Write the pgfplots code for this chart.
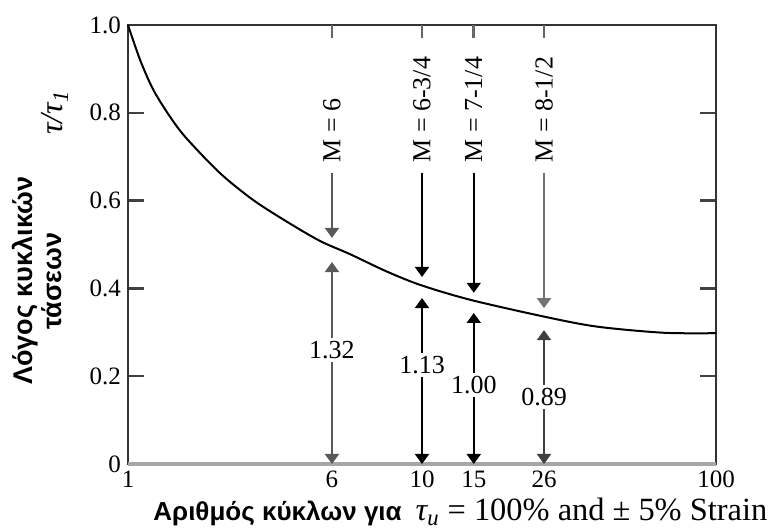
\documentclass[border=0pt]{standalone}
\usepackage{pgfplots}
\pgfplotsset{compat=1.18}
\usepackage{fontspec}
\setmainfont{Liberation Serif}
\newfontfamily\grk{Liberation Sans}
\usetikzlibrary{arrows.meta}

\tikzset{
  arr/.style={-{Triangle[width=7pt,length=5pt]}, line width=1pt},
  darr/.style={{Triangle[width=7pt,length=5pt]}-{Triangle[width=7pt,length=5pt]}, line width=1pt},
  mlab/.style={rotate=90, anchor=west, inner sep=0pt, font=\fontsize{13}{15}\selectfont},
  vlab/.style={fill=white, inner sep=1.5pt, font=\fontsize{13}{15}\selectfont},
  ttick/.style={black!60, line width=1.4pt},
}

\begin{document}
\begin{tikzpicture}
\begin{semilogxaxis}[
  scale only axis, width=294pt, height=219.5pt,
  xmin=1, xmax=100, ymin=0, ymax=1,
  xtick={1,4.94,10,15,26,100}, xticklabels={1,6,10,15,26,100},
  minor xtick={},
  ytick={0,0.2,0.4,0.6,0.8,1}, yticklabels={0,0.2,0.4,0.6,0.8,1.0},
  xtick style={draw=none},
  ytick style={black!75, line width=1.2pt},
  major tick length=8pt, tick align=inside,
  axis line style={black!80, line width=1pt},
  ticklabel style={font=\fontsize{12.5}{14}\selectfont},
  /pgf/number format/assume math mode=true,
  clip=false,
]
% measured curve
\addplot[black, line width=1pt, smooth] coordinates {
  (1,1.0)(1.1,0.92)(1.22,0.852)(1.39,0.791)(1.58,0.742)(2.06,0.662)
  (2.67,0.601)(3.47,0.552)(4.5,0.508)(5.69,0.478)(7.5,0.44)
  (9.85,0.408)(14.6,0.374)(25.9,0.336)(39.3,0.313)(66.2,0.299)(100,0.298)};

% grey bottom line
\draw[black!35, line width=2pt] (axis cs:1,0) -- (axis cs:100,0);

% top ticks
\draw[ttick] (axis cs:4.94,1) -- ([yshift=-6.5pt]axis cs:4.94,1);
\draw[ttick] (axis cs:10,1) -- ([yshift=-6.5pt]axis cs:10,1);
\draw[ttick] (axis cs:15,1) -- ([yshift=-6.5pt]axis cs:15,1);
\draw[ttick] (axis cs:26,1) -- ([yshift=-6.5pt]axis cs:26,1);

% upper arrows
\draw[arr, black!65] (axis cs:4.94,0.663) -- (axis cs:4.94,0.515);
\draw[arr] (axis cs:10,0.663) -- (axis cs:10,0.426);
\draw[arr] (axis cs:15,0.663) -- (axis cs:15,0.39);
\draw[arr, black!55] (axis cs:26,0.663) -- (axis cs:26,0.355);

% lower arrows
\draw[darr, black!65] (axis cs:4.94,0) -- (axis cs:4.94,0.46);
\draw[darr] (axis cs:10,0) -- (axis cs:10,0.378);
\draw[darr] (axis cs:15,0) -- (axis cs:15,0.344);
\draw[darr, black!75] (axis cs:26,0) -- (axis cs:26,0.305);

% M labels
\node[mlab] at (axis cs:4.94,0.686) {M = 6};
\node[mlab] at (axis cs:10,0.686) {M = 6-3/4};
\node[mlab] at (axis cs:15,0.686) {M = 7-1/4};
\node[mlab] at (axis cs:26,0.686) {M = 8-1/2};

% ratio labels
\node[vlab] at (axis cs:4.94,0.26) {1.32};
\node[vlab] at (axis cs:10,0.225) {1.13};
\node[vlab] at (axis cs:15,0.18) {1.00};
\node[vlab] at (axis cs:26,0.153) {0.89};

% y label
\node[rotate=90, align=center, font=\grk\bfseries\fontsize{13.5}{14.5}\selectfont]
  at ([xshift=-45.5pt]rel axis cs:0,0.417) {Λόγος κυκλικών\\τάσεων};
\node[rotate=90, font=\fontsize{16}{18}\selectfont\itshape]
  at ([xshift=-36.5pt]rel axis cs:0,0.80) {τ/τ\textsubscript{1}};

% x label
\node[anchor=base west, inner sep=0pt] at ([xshift=12.5pt, yshift=-28pt]rel axis cs:0,0)
  {{\grk\bfseries\fontsize{13}{15}\selectfont Αριθμός κύκλων για}\hspace{7pt}%
   {\fontsize{16.2}{18}\selectfont\itshape τ\textsubscript{u}\upshape\ = 100\% and ± 5\% Strain}};
\end{semilogxaxis}
\pgfresetboundingbox
\path[use as bounding box] ([shift={(-64pt,-32pt)}]current axis.south west)
  rectangle ([shift={(28.5pt,12.5pt)}]current axis.north east);
\end{tikzpicture}
\end{document}
